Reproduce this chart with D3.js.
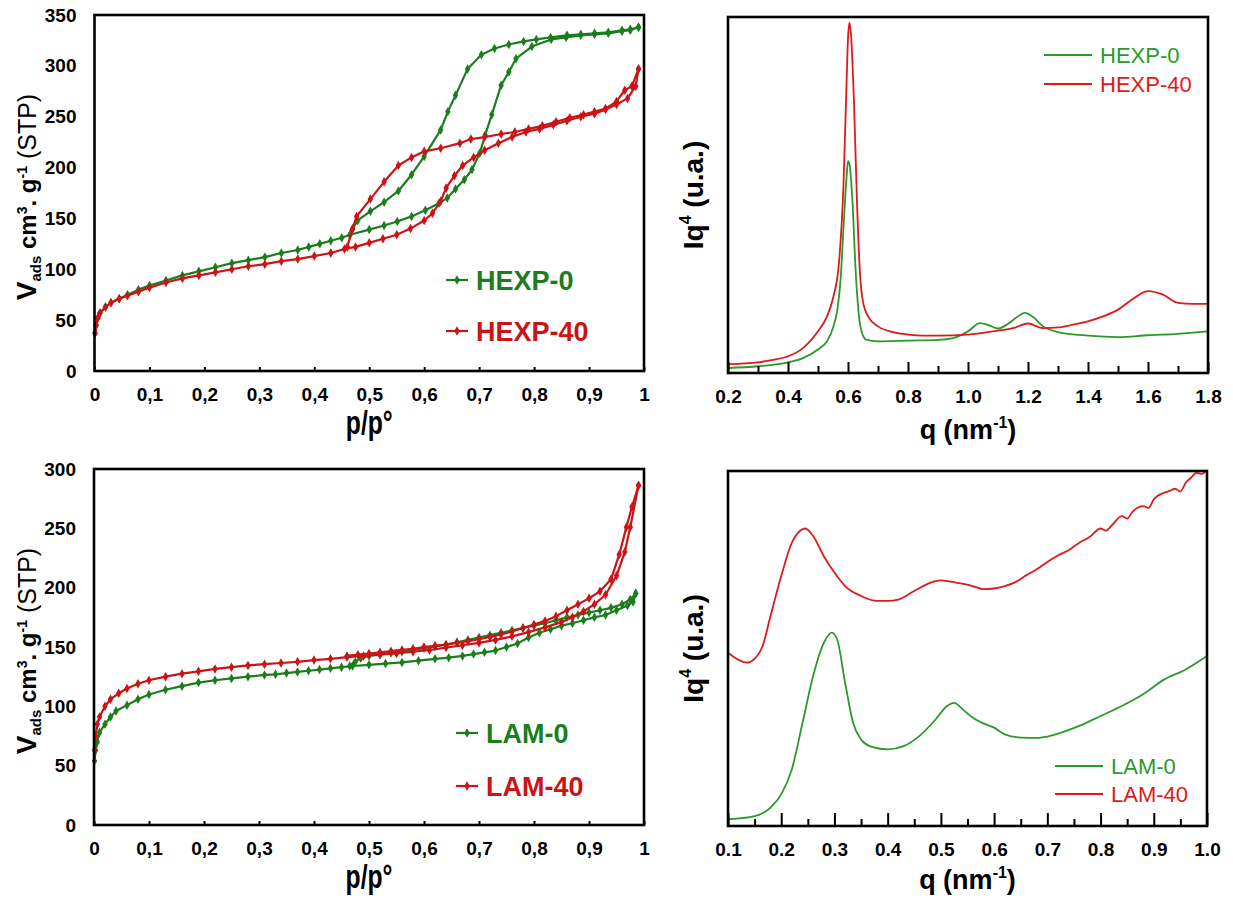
<!DOCTYPE html>
<html><head><meta charset="utf-8">
<script src="https://cdn.jsdelivr.net/npm/d3@7"></script>
<style>
body{margin:0;background:#fff}
svg{display:block}
text{font-family:Arial,"Liberation Sans",sans-serif}
</style>
</head><body>
<svg id="c" width="1233" height="904"></svg>
<script>
// ---------- DATA ----------
// Nitrogen isotherms: [p/p°, Vads]
const hexp0Ads = [[0.001,37],[0.003,45],[0.006,52],[0.01,57],[0.02,63],[0.03,67],[0.045,71],[0.06,75],[0.08,80],[0.1,84],[0.13,89],[0.16,94],[0.19,98],[0.22,102],[0.25,106],[0.28,109],[0.31,112],[0.34,116],[0.37,119],[0.39,122],[0.41,125],[0.43,128],[0.45,131],[0.465,134],[0.5,139],[0.527,143],[0.551,147],[0.577,152],[0.602,158],[0.627,165],[0.642,170],[0.657,179],[0.673,188],[0.687,198],[0.701,214],[0.711,232],[0.723,252],[0.74,281],[0.754,294],[0.767,307],[0.796,319],[0.831,326],[0.858,328],[0.885,330],[0.91,331],[0.935,332],[0.96,334],[0.975,335],[0.99,338]];
const hexp0Des = [[0.99,338],[0.975,336],[0.96,335],[0.935,333],[0.91,332],[0.885,331],[0.86,330],[0.83,328],[0.804,326],[0.781,324],[0.754,321],[0.728,317],[0.704,311],[0.679,297],[0.657,271],[0.643,255],[0.63,237],[0.6,211],[0.577,193],[0.553,177],[0.527,166],[0.502,157],[0.479,148],[0.47,140],[0.465,134]];
const hexp40Ads = [[0.001,37],[0.003,45],[0.006,52],[0.01,57],[0.02,63],[0.03,67],[0.045,71],[0.06,74],[0.08,78],[0.1,82],[0.13,87],[0.16,91],[0.19,94],[0.22,97],[0.25,100],[0.28,103],[0.31,105],[0.34,108],[0.37,110],[0.4,113],[0.43,116],[0.455,120],[0.475,122],[0.5,126],[0.525,130],[0.55,134],[0.575,140],[0.6,148],[0.615,155],[0.63,167],[0.64,180],[0.655,192],[0.67,202],[0.69,210],[0.71,217],[0.735,224],[0.76,230],[0.785,235],[0.81,238],[0.835,242],[0.86,246],[0.885,250],[0.91,253],[0.93,257],[0.95,262],[0.97,268],[0.985,280],[0.99,297]];
const hexp40Des = [[0.99,297],[0.978,280],[0.965,276],[0.95,265],[0.93,258],[0.91,255],[0.89,252],[0.865,249],[0.84,245],[0.815,241],[0.79,238],[0.765,235],[0.74,233],[0.71,230],[0.685,228],[0.665,224],[0.63,219],[0.6,216],[0.577,210],[0.553,202],[0.527,186],[0.502,169],[0.477,152],[0.469,139],[0.46,122]];
const lam0Ads = [[0.001,54],[0.003,63],[0.006,70],[0.01,78],[0.02,85],[0.03,91],[0.04,96],[0.06,101],[0.08,106],[0.1,110],[0.13,114],[0.16,117],[0.19,120],[0.22,122],[0.25,123.5],[0.28,125],[0.31,126.5],[0.33,127],[0.35,128],[0.37,129],[0.39,130],[0.41,131],[0.43,132],[0.45,133],[0.47,134],[0.5,135],[0.53,136],[0.56,137],[0.59,138.5],[0.62,140],[0.645,141],[0.67,142.5],[0.69,144],[0.71,145.5],[0.73,147],[0.75,150],[0.77,153],[0.79,158],[0.81,162],[0.83,165],[0.85,168],[0.87,170],[0.89,172.5],[0.91,175],[0.93,177],[0.95,181],[0.97,185],[0.98,188],[0.985,195]];
const lam0Des = [[0.985,195],[0.975,190],[0.96,186],[0.94,183],[0.92,181],[0.9,179],[0.88,177],[0.86,175],[0.84,172.5],[0.82,170],[0.8,168],[0.78,166],[0.76,164],[0.74,162],[0.72,160],[0.7,158],[0.68,156],[0.66,154],[0.64,152],[0.62,150.5],[0.6,149],[0.58,147.5],[0.56,146],[0.54,145],[0.52,144],[0.5,142.5],[0.485,140.5],[0.475,137.5],[0.465,134]];
const lam40Ads = [[0.001,63],[0.003,75],[0.006,85],[0.01,91],[0.02,100],[0.03,106],[0.045,111],[0.06,115],[0.08,119],[0.1,122],[0.13,125],[0.16,127.5],[0.19,129.5],[0.22,131.5],[0.25,133],[0.28,134.5],[0.31,135.5],[0.34,136.5],[0.37,137.5],[0.4,139],[0.43,140],[0.46,141.5],[0.49,142.5],[0.52,143.5],[0.55,144.5],[0.58,146],[0.61,147.5],[0.64,149.5],[0.67,151.5],[0.7,153.5],[0.73,156],[0.76,159],[0.79,162.5],[0.82,166.5],[0.85,171],[0.87,175],[0.89,180],[0.91,186],[0.93,194],[0.95,210],[0.965,230],[0.975,251],[0.99,286]];
const lam40Des = [[0.99,286],[0.978,268],[0.968,251],[0.955,228],[0.94,207],[0.92,197],[0.9,191],[0.88,186],[0.86,181],[0.84,176],[0.82,172],[0.8,169],[0.78,166],[0.76,163],[0.74,160.5],[0.72,158.5],[0.7,156.5],[0.68,155],[0.66,153.5],[0.64,152],[0.62,151],[0.6,150],[0.58,148.5],[0.56,147.5],[0.54,146.5],[0.52,145.5],[0.5,144.5],[0.48,143.5],[0.46,142.5]];

// SAXS curves: [q, Iq^4 (a.u., 0-100)]
const saxsHexp0 = [[0.2,1.4],[0.3,1.9],[0.4,3.0],[0.45,4.2],[0.5,6.6],[0.53,8.9],[0.55,12.7],[0.565,18],[0.575,26],[0.585,40.8],[0.595,54.8],[0.6,59.5],[0.605,58.6],[0.615,48],[0.625,29.5],[0.635,17.3],[0.645,11.7],[0.66,9.4],[0.7,8.9],[0.8,9.1],[0.9,9.3],[0.95,9.8],[1.0,11.7],[1.04,14],[1.07,13.4],[1.1,12.5],[1.13,13.6],[1.16,15.5],[1.19,16.9],[1.22,15.5],[1.25,13.1],[1.3,11.5],[1.4,10.5],[1.5,10.1],[1.6,10.6],[1.7,11],[1.8,11.7]];
const saxsHexp40 = [[0.2,2.5],[0.3,3.0],[0.35,3.7],[0.4,4.7],[0.45,7.0],[0.5,11.7],[0.53,15.9],[0.55,21],[0.57,31],[0.585,53],[0.595,81],[0.6,94],[0.605,98.4],[0.61,95],[0.62,76],[0.63,48],[0.64,28],[0.65,20],[0.67,15.5],[0.7,13.1],[0.75,11.5],[0.8,10.8],[0.85,10.5],[0.9,10.5],[1.0,10.8],[1.1,11.9],[1.15,12.6],[1.2,13.9],[1.25,12.6],[1.3,12.8],[1.35,13.6],[1.4,14.5],[1.45,15.9],[1.5,17.8],[1.55,20.8],[1.6,23],[1.65,22],[1.7,19.7],[1.75,19.4],[1.8,19.4]];
const saxsLam0 = [[0.1,1.9],[0.15,2.8],[0.18,5.2],[0.2,8.9],[0.22,16],[0.24,29],[0.26,42.3],[0.28,51.6],[0.295,54.5],[0.305,52.6],[0.32,40.4],[0.335,29.1],[0.35,24.4],[0.37,22.3],[0.4,21.6],[0.43,22.5],[0.46,25.4],[0.49,30],[0.51,33.6],[0.525,34.7],[0.54,33],[0.56,30.5],[0.58,28.9],[0.6,27.7],[0.62,25.8],[0.65,24.9],[0.68,24.8],[0.7,25.2],[0.73,26.5],[0.76,28.2],[0.8,31],[0.84,33.8],[0.88,37.1],[0.92,41.3],[0.96,44.1],[0.99,46.9],[1.0,47.9]];
const saxsLam40 = [[0.1,48.8],[0.12,46.8],[0.135,46],[0.15,47.1],[0.165,50.7],[0.18,59.2],[0.2,70.4],[0.22,79.8],[0.235,83.1],[0.245,83.8],[0.26,81.7],[0.28,76],[0.3,71.4],[0.32,67.6],[0.35,64.8],[0.38,63.4],[0.4,63.4],[0.42,63.8],[0.45,66.2],[0.48,68.5],[0.5,69.2],[0.53,68.5],[0.56,67.6],[0.58,66.7],[0.6,66.9],[0.62,67.6],[0.64,68.7],[0.66,70.6],[0.68,72.3],[0.7,74.4],[0.72,76.2],[0.74,77.7],[0.76,79.8],[0.78,81.5],[0.8,83.8],[0.81,83.2],[0.82,84.5],[0.84,87.3],[0.85,86.6],[0.86,88.5],[0.88,90.1],[0.89,89.6],[0.9,92],[0.92,93.9],[0.93,94.4],[0.94,95],[0.95,94.2],[0.96,96.7],[0.97,98.1],[0.98,99.5],[0.99,99.2],[1.0,100.3]];

const pTicks = [0,0.1,0.2,0.3,0.4,0.5,0.6,0.7,0.8,0.9,1];
const pTickLabels = ["0","0,1","0,2","0,3","0,4","0,5","0,6","0,7","0,8","0,9","1"];
const hexpYTicks = [0,50,100,150,200,250,300,350];
const lamYTicks = [0,50,100,150,200,250,300];
const hexpQMajor = [0.2,0.4,0.6,0.8,1.0,1.2,1.4,1.6,1.8];
const hexpQMinor = [0.3,0.5,0.7,0.9,1.1,1.3,1.5,1.7];
const lamQMajor = [0.1,0.2,0.3,0.4,0.5,0.6,0.7,0.8,0.9,1.0];
const lamQMinor = [0.15,0.25,0.35,0.45,0.55,0.65,0.75,0.85,0.95];

const isoNames = ["HEXP-0","HEXP-40","LAM-0","LAM-40"];

// ---------- STYLE ----------
const GREEN = "#1b7d1b", RED = "#cc1317";
const SGREEN = "#2a9a2a", SRED = "#de1a1a";

const svg = d3.select("#c");

function frame(b){
  svg.append("rect").attr("x",b.x0).attr("y",b.y0).attr("width",b.x1-b.x0).attr("height",b.y1-b.y0)
    .attr("fill","none").attr("stroke","#000").attr("stroke-width",2.6);
}

function isoPanel(b, yMax, yTicks, series, legend, titleY){
  const x = d3.scaleLinear().domain([0,1]).range([b.x0,b.x1]);
  const y = d3.scaleLinear().domain([0,yMax]).range([b.y1,b.y0]);
  const gx = svg.append("g").attr("transform",`translate(0,${b.y1})`)
    .call(d3.axisBottom(x).tickValues(pTicks).tickFormat((d,i)=>pTickLabels[i]).tickSizeInner(-4).tickSizeOuter(0).tickPadding(17));
  gx.select(".domain").remove();
  gx.selectAll("line").attr("stroke","#000").attr("stroke-width",2);
  gx.selectAll("text").attr("font-size",19).attr("font-weight","bold").attr("fill","#000").attr("font-family","Arial, 'Liberation Sans', sans-serif");
  const gy = svg.append("g").attr("transform",`translate(${b.x0},0)`)
    .call(d3.axisLeft(y).tickValues(yTicks).tickSize(0).tickPadding(18));
  gy.select(".domain").remove();
  gy.selectAll("text").attr("font-size",19).attr("font-weight","bold").attr("fill","#000").attr("font-family","Arial, 'Liberation Sans', sans-serif");

  const line = d3.line().x(d=>x(d[0])).y(d=>y(d[1]));
  const sym = d3.symbol().type(d3.symbolDiamond).size(26);
  series.forEach(s=>{
    [s.ads,s.des].forEach(arr=>{
      svg.append("path").attr("d",line(arr)).attr("fill","none").attr("stroke",s.color).attr("stroke-width",2.2).attr("stroke-linejoin","round");
      svg.append("g").selectAll("path").data(arr).join("path")
        .attr("transform",d=>`translate(${x(d[0])},${y(d[1])})`).attr("d",sym).attr("fill",s.color);
    });
  });
  legend.forEach(l=>{
    svg.append("line").attr("x1",l.x).attr("x2",l.x+22).attr("y1",l.y).attr("y2",l.y).attr("stroke",l.color).attr("stroke-width",2.2);
    svg.append("path").attr("transform",`translate(${l.x+11},${l.y})`).attr("d",sym).attr("fill",l.color);
    svg.append("text").attr("x",l.x+30).attr("y",l.y).attr("dy","0.36em").attr("font-size",27).attr("font-weight","bold")
      .attr("fill",l.color).text(l.name);
  });
  // x title (slightly tall glyphs as in the source)
  svg.append("text").attr("transform",`translate(${(b.x0+b.x1)/2},${titleY}) scale(0.95,1.25)`).attr("text-anchor","middle")
    .attr("font-size",26).attr("font-weight","bold").text("p/p°");
  // y title
  const cy = (b.y0+b.y1)/2 + 4;
  const t = svg.append("text").attr("transform",`translate(36,${cy}) rotate(-90)`).attr("text-anchor","middle")
    .attr("font-weight","bold").attr("font-size",24);
  t.append("tspan").attr("font-size",28).text("V");
  t.append("tspan").attr("font-size",15).attr("dy",5).text("ads");
  t.append("tspan").attr("dy",-5).text(" cm");
  t.append("tspan").attr("font-size",14).attr("dy",-9).text("3");
  t.append("tspan").attr("dy",9).text(". g");
  t.append("tspan").attr("font-size",14).attr("dy",-9).text("-1");
  t.append("tspan").attr("dy",9).attr("font-weight","normal").attr("font-size",25).text(" (STP)");
  frame(b);
}

function saxsPanel(b, dom, major, minor, majLen, minLen, series, legend, titleY){
  const x = d3.scaleLinear().domain(dom).range([b.x0,b.x1]);
  const y = d3.scaleLinear().domain([0,100]).range([b.y1,b.y0]);
  const line = d3.line().x(d=>x(d[0])).y(d=>y(d[1])).curve(d3.curveMonotoneX);
  series.forEach(s=>{
    svg.append("path").attr("d",line(s.data)).attr("fill","none").attr("stroke",s.color).attr("stroke-width",1.8).attr("stroke-linejoin","round");
  });
  const gm = svg.append("g").attr("transform",`translate(0,${b.y1})`)
    .call(d3.axisBottom(x).tickValues(minor).tickSizeInner(-minLen).tickSizeOuter(0).tickFormat(""));
  gm.select(".domain").remove();
  gm.selectAll("line").attr("stroke","#000").attr("stroke-width",2);
  const gx = svg.append("g").attr("transform",`translate(0,${b.y1})`)
    .call(d3.axisBottom(x).tickValues(major).tickSizeInner(-majLen).tickSizeOuter(0).tickFormat(d3.format(".1f")).tickPadding(17));
  gx.select(".domain").remove();
  gx.selectAll("line").attr("stroke","#000").attr("stroke-width",2);
  gx.selectAll("text").attr("font-size",19).attr("font-weight","bold").attr("fill","#000").attr("font-family","Arial, 'Liberation Sans', sans-serif");
  legend.forEach(l=>{
    svg.append("line").attr("x1",l.x).attr("x2",l.x+48).attr("y1",l.y).attr("y2",l.y).attr("stroke",l.color).attr("stroke-width",1.8);
    svg.append("text").attr("x",l.x+56).attr("y",l.y).attr("dy","0.36em").attr("font-size",22).attr("fill",l.color).text(l.name);
  });
  const xt = svg.append("text").attr("x",(b.x0+b.x1)/2).attr("y",titleY).attr("text-anchor","middle")
    .attr("font-size",27).attr("font-weight","bold");
  xt.append("tspan").text("q (nm");
  xt.append("tspan").attr("font-size",16).attr("dy",-11).text("-1");
  xt.append("tspan").attr("dy",11).text(")");
  const cy = (b.y0+b.y1)/2;
  const yt = svg.append("text").attr("transform",`translate(703,${cy}) rotate(-90)`).attr("text-anchor","middle")
    .attr("font-size",28).attr("font-weight","bold");
  yt.append("tspan").text("Iq");
  yt.append("tspan").attr("font-size",16).attr("dy",-12).text("4");
  yt.append("tspan").attr("dy",12).text(" (u.a.)");
  frame(b);
}

// ---------- PANELS ----------
isoPanel({x0:94.5,x1:644,y0:15,y1:371}, 350, hexpYTicks,
  [{ads:hexp0Ads,des:hexp0Des,color:GREEN},{ads:hexp40Ads,des:hexp40Des,color:RED}],
  [{x:446,y:280,color:GREEN,name:isoNames[0]},{x:446,y:331,color:RED,name:isoNames[1]}], 434);

isoPanel({x0:94,x1:644,y0:469,y1:825}, 300, lamYTicks,
  [{ads:lam0Ads,des:lam0Des,color:GREEN},{ads:lam40Ads,des:lam40Des,color:RED}],
  [{x:456,y:733,color:GREEN,name:isoNames[2]},{x:456,y:786,color:RED,name:isoNames[3]}], 888);

saxsPanel({x0:728,x1:1208,y0:17,y1:373}, [0.2,1.8], hexpQMajor, hexpQMinor, 11, 7,
  [{data:saxsHexp0,color:SGREEN},{data:saxsHexp40,color:SRED}],
  [{x:1044,y:55,color:SGREEN,name:"HEXP-0"},{x:1044,y:84,color:SRED,name:"HEXP-40"}], 439);

saxsPanel({x0:728,x1:1207,y0:471,y1:826}, [0.1,1.0], lamQMajor, lamQMinor, 13, 7,
  [{data:saxsLam0,color:SGREEN},{data:saxsLam40,color:SRED}],
  [{x:1055,y:766,color:SGREEN,name:"LAM-0"},{x:1055,y:794,color:SRED,name:"LAM-40"}], 889);
</script>
</body></html>
